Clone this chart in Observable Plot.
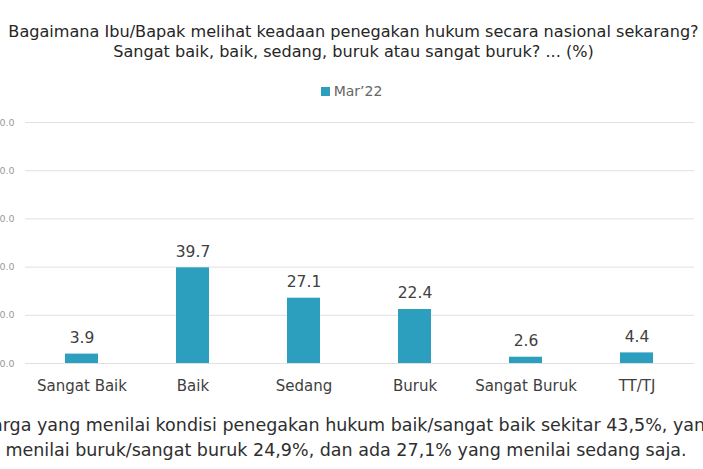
<!DOCTYPE html>
<html>
<head>
<meta charset="utf-8">
<script src="https://cdn.jsdelivr.net/npm/d3@7"></script>
<script src="https://cdn.jsdelivr.net/npm/@observablehq/plot@0.6"></script>
<style>
  html, body { margin: 0; padding: 0; background: #fff; width: 703px; height: 469px; overflow: hidden; position: relative; font-family: "DejaVu Sans", sans-serif; }
  #title { position: absolute; top: 22px; left: -48px; width: 803px; text-align: center; font-size: 16.1px; line-height: 20px; color: #262626; white-space: nowrap; }
  #legend { position: absolute; top: 83px; left: 0; width: 703px; text-align: center; font-size: 14px; color: #666; }
  #legend .sw { display: inline-block; width: 9px; height: 9px; background: #2b9fbd; margin-right: 4px; vertical-align: 0px; }
  #chart { position: absolute; top: 100px; left: 0; }
  #caption { position: absolute; top: 413px; left: -54px; width: 800px; text-align: center; font-size: 17.5px; line-height: 25px; color: #2e2e2e; white-space: nowrap; }
</style>
</head>
<body>
<div id="title">Bagaimana Ibu/Bapak melihat keadaan penegakan hukum secara nasional sekarang?<br>Sangat baik, baik, sedang, buruk atau sangat buruk? ... (%)</div>
<div id="legend"><span class="sw"></span><span id="series"></span></div>
<div id="chart"></div>
<div id="caption">Warga yang menilai kondisi penegakan hukum baik/sangat baik sekitar 43,5%, yang<br>menilai buruk/sangat buruk 24,9%, dan ada 27,1% yang menilai sedang saja.</div>
<script>
const seriesName = "Mar\u201922";
const categories = ["Sangat Baik", "Baik", "Sedang", "Buruk", "Sangat Buruk", "TT/TJ"];
const values = [3.9, 39.7, 27.1, 22.4, 2.6, 4.4];
const yTicks = [0, 20, 40, 60, 80, 100];

document.getElementById("series").textContent = seriesName;
const data = categories.map((c, i) => ({category: c, value: values[i]}));
const barColor = "#2b9fbd";

const chart = Plot.plot({
  width: 703,
  height: 310,
  marginTop: 22,
  marginBottom: 47,
  marginLeft: 25,
  marginRight: 9,
  style: {fontFamily: "DejaVu Sans, sans-serif", overflow: "visible", background: "transparent"},
  x: {domain: categories, paddingInner: 0.7, paddingOuter: 0.35, label: null},
  y: {domain: [0, 100], label: null},
  marks: [
    Plot.ruleY(yTicks, {stroke: "#e0e0e0", strokeWidth: 1}),
    Plot.barY(data, {x: "category", y: "value", fill: barColor}),
    Plot.text(data, {x: "category", y: "value", text: d => d.value.toFixed(1), dy: -16, fill: "#404040", fontSize: 15.5}),
    Plot.axisY({ticks: yTicks, tickSize: 0, tickPadding: 11, tickFormat: d => d.toFixed(1), fontSize: 9.5, color: "#9a9a9a", label: null}),
    Plot.axisX({tickSize: 0, tickPadding: 17, fontSize: 15, color: "#404040", label: null})
  ]
});
document.getElementById("chart").appendChild(chart);
</script>
</body>
</html>
